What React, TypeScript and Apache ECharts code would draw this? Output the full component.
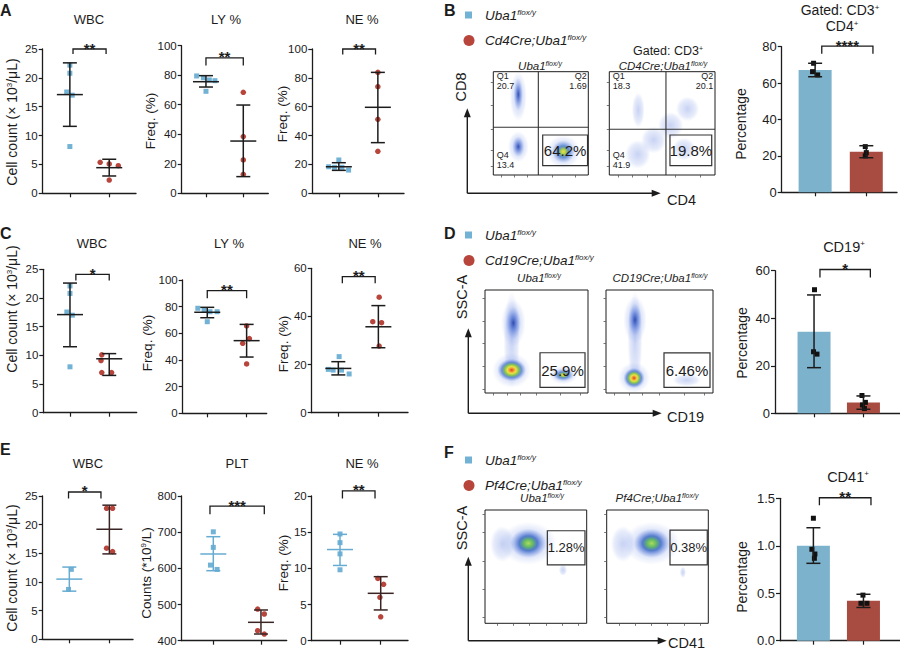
import React, { useEffect, useRef } from 'react';
import * as echarts from 'echarts';

const FONT = '"Liberation Sans", Arial, Helvetica, sans-serif';
const INK = '#1c1c1c';
const BLUE = '#72B2D5';
const RED = '#B8453B';
const BAR_BLUE = '#7DB2CD';
const BAR_RED = '#A84C41';
const ERR_BLUE = '#66ACD2';
const ERR_DARK = '#3a2424';

// ================= DATA =================
// stats rows: [mean, lower (mean-SD), upper (mean+SD)]; sig: [x1, x2, y, label]
// ---- Panel A
const A_WBC_CTRL = [22.2, 20.8, 17.55, 17.0, 8.1];
const A_WBC_CTRL_JIT = [0, 0, -0.08, 0.06, 0];
const A_WBC_KO = [5.37, 5.08, 4.78, 2.3];
const A_WBC_KO_JIT = [-0.23, 0, 0.23, 0];
const A_WBC_STATS = [[17.1, 11.6, 22.6], [4.44, 3.0, 5.9]];
const A_WBC_SIG: [number, number, number, string] = [1.08, 1.92, 25, '**'];

const A_LY_CTRL = [79.5, 78.3, 76.8, 76.3, 69.1];
const A_LY_CTRL_JIT = [-0.25, -0.07, 0.09, 0.24, 0];
const A_LY_KO = [68.4, 38.4, 22.6, 12.9];
const A_LY_KO_JIT = [0, 0, 0, 0];
const A_LY_STATS = [[75.6, 72.0, 79.7], [35.4, 11.3, 59.8]];
const A_LY_SIG: [number, number, number, string] = [1.0, 2.0, 91.7, '**'];

const A_NE_CTRL = [18.4, 18.0, 23.1, 18.0, 16.1];
const A_NE_CTRL_JIT = [-0.26, -0.11, 0, 0.08, 0.25];
const A_NE_KO = [83.8, 73.9, 51.3, 29.1];
const A_NE_KO_JIT = [0, 0, 0, 0];
const A_NE_STATS = [[18.4, 15.9, 21.2], [59.6, 35.1, 83.8]];
const A_NE_SIG: [number, number, number, string] = [1.1, 1.94, 100, '**'];

// ---- Panel C
const C_WBC_CTRL = [22.1, 20.8, 17.55, 17.0, 8.0];
const C_WBC_CTRL_JIT = [0, 0, -0.08, 0.06, 0];
const C_WBC_KO = [10.1, 9.1, 7.0, 7.0];
const C_WBC_KO_JIT = [-0.19, -0.21, -0.19, 0.06];
const C_WBC_STATS = [[17.1, 11.5, 22.6], [9.4, 6.5, 10.3]];
const C_WBC_SIG: [number, number, number, string] = [1.15, 2.0, 24.1, '*'];

const C_LY_CTRL = [78.8, 77.5, 76.2, 76.2, 68.7];
const C_LY_CTRL_JIT = [-0.24, -0.08, 0.07, 0.25, 0];
const C_LY_KO = [65.5, 56.0, 52.5, 37.0];
const C_LY_KO_JIT = [0, 0.07, -0.1, 0];
const C_LY_STATS = [[75.8, 71.7, 79.5], [54.5, 42.2, 66.7]];
const C_LY_SIG: [number, number, number, string] = [1.0, 2.0, 92, '**'];

const C_NE_CTRL = [18.0, 17.7, 23.3, 17.7, 16.1];
const C_NE_CTRL_JIT = [-0.25, -0.13, 0.02, 0.08, 0.27];
const C_NE_KO = [48.0, 37.8, 37.4, 27.7];
const C_NE_KO_JIT = [0.02, -0.14, 0.08, 0.02];
const C_NE_STATS = [[18.4, 15.7, 21.2], [35.7, 27.0, 44.5]];
const C_NE_SIG: [number, number, number, string] = [1.1, 1.92, 56.5, '**'];

// ---- Panel E
const E_WBC_CTRL = [12.2, 8.7];
const E_WBC_CTRL_JIT = [0.05, -0.02];
const E_WBC_KO = [22.85, 22.85, 15.9, 15.3];
const E_WBC_KO_JIT = [-0.07, 0.08, -0.07, 0.08];
const E_WBC_STATS = [[10.5, 8.4, 12.6], [19.2, 14.9, 23.4]];
const E_WBC_SIG: [number, number, number, string] = [0.98, 1.79, 25.7, '*'];

const E_PLT_CTRL = [701, 658, 609, 597];
const E_PLT_CTRL_JIT = [0, 0, -0.06, 0.08];
const E_PLT_KO = [487.6, 473.8, 427.7, 418.5];
const E_PLT_KO_JIT = [-0.07, 0.07, -0.07, 0.07];
const E_PLT_STATS = [[639.7, 593.5, 687.5], [450.8, 418.5, 484.9]];
const E_PLT_SIG: [number, number, number, string] = [0.93, 2.07, 772, '***'];

const E_NE_CTRL = [14.75, 13.55, 12.0, 9.8];
const E_NE_CTRL_JIT = [0, 0, 0, 0];
const E_NE_KO = [8.6, 7.8, 6.0, 3.3];
const E_NE_KO_JIT = [-0.07, 0.07, -0.02, 0];
const E_NE_STATS = [[12.6, 10.4, 14.7], [6.55, 4.25, 8.85]];
const E_NE_SIG: [number, number, number, string] = [1.06, 1.86, 20.7, '**'];

// ---- Bar charts (B, D, F)
const B_BAR_MEANS = [67.2, 22.3];
const B_BAR_ERR = [[63.5, 70.9], [19.0, 25.6]];
const B_BAR_CTRL = [70.9, 66.3, 64.5];
const B_BAR_CTRL_JIT = [-0.03, -0.05, 0.05];
const B_BAR_KO = [25.1, 21.8, 20.0];
const B_BAR_KO_JIT = [-0.02, 0, -0.02];
const B_BAR_SIG: [number, number, number, string] = [1.13, 2.13, 80.3, '****'];

const D_BAR_MEANS = [34.3, 4.5];
const D_BAR_ERR = [[19.2, 49.8], [1.7, 7.3]];
const D_BAR_CTRL = [52.0, 25.9, 24.9];
const D_BAR_CTRL_JIT = [0.01, -0.01, 0.06];
const D_BAR_KO = [7.5, 4.6, 3.5, 2.0];
const D_BAR_KO_JIT = [-0.03, 0.04, -0.02, 0.02];
const D_BAR_SIG: [number, number, number, string] = [1.12, 2.14, 60.5, '*'];

const F_BAR_MEANS = [1.0, 0.42];
const F_BAR_ERR = [[0.815, 1.19], [0.35, 0.489]];
const F_BAR_CTRL = [1.29, 0.963, 0.913, 0.868];
const F_BAR_CTRL_JIT = [0, -0.03, 0.03, 0.02];
const F_BAR_KO = [0.48, 0.394, 0.394];
const F_BAR_KO_JIT = [-0.01, -0.05, 0.07];
const F_BAR_SIG: [number, number, number, string] = [1.12, 2.15, 1.506, '**'];

// ---- Flow cytometry plots: clusters [cx, cy, rx, ry, densityLevel] on a 0-100 plot scale
const B1_CLUSTERS = [[26.3, 76, 9, 24, 0], [26.3, 27.4, 11, 15, 0], [73.7, 22.6, 18, 16, 0], [26.3, 78, 5, 16, 1], [26.3, 27.4, 6.5, 10, 1], [73.7, 22.6, 12, 11, 3]];
const B1_QUAD = [47.4, 46.2];
const B1_GATE = [52, 9, 99.2, 38.7];
const B1_PCT = '64.2%';
const B1_QLABELS: [string, number, number][] = [['Q1', 3.5, 95.5], ['20.7', 3.5, 86], ['Q2', 98.3, 95.5], ['1.69', 98.3, 86], ['Q4', 3.5, 19.4], ['13.4', 3.5, 9.7]];

const B2_CLUSTERS = [[27, 20, 12, 14, 0], [42, 33.9, 12, 13, 0], [58, 48, 12, 13, 0], [74, 64, 11, 12, 0], [27.4, 62.9, 6, 17, 0], [70.7, 25, 11, 11, 0]];
const B2_QUAD = [53.6, 44.3];
const B2_GATE = [57.4, 9, 96.9, 38.7];
const B2_PCT = '19.8%';
const B2_QLABELS: [string, number, number][] = [['Q1', 3.2, 95.5], ['18.3', 3.2, 86], ['Q2', 98.3, 95.5], ['20.1', 98.3, 86], ['Q4', 3.2, 19.4], ['41.9', 3.2, 9.7]];

const D1_CLUSTERS = [[25.9, 52, 8, 47, 0], [27.5, 68, 12, 23, 0], [25.9, 22, 19, 17, 0], [76, 17.5, 14, 9, 0], [27.5, 68, 7.5, 16, 1], [25.9, 22.3, 14, 11, 4], [76, 17.5, 10, 6, 3]];
const D1_GATE = [53.4, 5.5, 97.1, 39.1];
const D1_PCT = '25.9%';

const D2_CLUSTERS = [[27.1, 52, 7, 47, 0], [27.1, 71, 11, 23, 0], [26.2, 15, 15, 15, 0], [75.4, 12.6, 13, 6, 0], [27.1, 71, 6.5, 16, 1], [26.2, 14.5, 10, 10, 4]];
const D2_GATE = [54.2, 5.5, 97.2, 39];
const D2_PCT = '6.46%';

const F1_CLUSTERS = [[17, 70, 12, 16, 0], [42.6, 70.6, 28, 19, 0], [42.6, 70.6, 18, 13, 2], [76.7, 47, 4, 5, 0]];
const F1_GATE = [61.3, 51.5, 98.3, 81.7];
const F1_PCT = '1.28%';

const F2_CLUSTERS = [[16, 70, 12, 16, 0], [44.3, 70.6, 28, 19, 0], [44.3, 70.6, 18, 13, 2], [75, 45, 3, 5, 0]];
const F2_GATE = [62.3, 51.5, 99, 82.3];
const F2_PCT = '0.38%';

// ================= STYLE HELPERS =================
const LEVEL_STOPS: [number, string][][] = [
  [[0, 'rgba(70,105,215,0.3)'], [0.7, 'rgba(90,125,225,0.15)'], [1, 'rgba(110,140,230,0)']],
  [[0, 'rgba(25,55,165,0.85)'], [0.45, 'rgba(55,95,205,0.5)'], [1, 'rgba(100,135,225,0)']],
  [[0, 'rgba(175,220,90,1)'], [0.25, 'rgba(95,185,95,0.95)'], [0.5, 'rgba(40,90,190,0.75)'], [0.8, 'rgba(70,110,215,0.3)'], [1, 'rgba(100,135,225,0)']],
  [[0, '#f3dc45'], [0.22, '#a9d04a'], [0.5, 'rgba(45,105,195,0.7)'], [1, 'rgba(100,135,225,0)']],
  [[0, '#e2382a'], [0.14, '#f0902f'], [0.3, '#ece046'], [0.48, '#86c64f'], [0.7, 'rgba(45,95,200,0.6)'], [1, 'rgba(100,135,225,0)']],
];

const textStyle = (text: string, size: number, extra: any = {}) => ({
  text,
  fontSize: size,
  fontFamily: FONT,
  fill: INK,
  textAlign: extra.align || 'center',
  textVerticalAlign: 'middle',
  align: extra.align || 'center',
  verticalAlign: 'middle',
  fontWeight: extra.bold ? 'bold' : 'normal',
  fontStyle: extra.italic ? 'italic' : 'normal',
});

function errRender(cap: number, meanHalf: number, colors: string[]) {
  return (params: any, api: any) => {
    const x = api.value(0);
    const pm = api.coord([x, api.value(1)]);
    const pl = api.coord([x, api.value(2)]);
    const ph = api.coord([x, api.value(3)]);
    const st = { stroke: colors[params.dataIndex], lineWidth: 1.5, fill: 'none' };
    const kids: any[] = [
      { type: 'line', shape: { x1: pl[0], y1: pl[1], x2: ph[0], y2: ph[1] }, style: st },
      { type: 'line', shape: { x1: pl[0] - cap, y1: pl[1], x2: pl[0] + cap, y2: pl[1] }, style: st },
      { type: 'line', shape: { x1: ph[0] - cap, y1: ph[1], x2: ph[0] + cap, y2: ph[1] }, style: st },
    ];
    if (meanHalf > 0) kids.push({ type: 'line', shape: { x1: pm[0] - meanHalf, y1: pm[1], x2: pm[0] + meanHalf, y2: pm[1] }, style: st });
    return { type: 'group', children: kids };
  };
}

function bracketRender(label: string, leg: number, size: number) {
  return (params: any, api: any) => {
    const a = api.coord([api.value(0), api.value(2)]);
    const b = api.coord([api.value(1), api.value(2)]);
    return {
      type: 'group',
      children: [
        { type: 'polyline', shape: { points: [[a[0], a[1] + leg], [a[0], a[1]], [b[0], b[1]], [b[0], b[1] + leg]] }, style: { stroke: INK, lineWidth: 1.3, fill: 'none' } },
        { type: 'text', x: (a[0] + b[0]) / 2, y: a[1] - 1, style: textStyle(label, size, { bold: true }) },
      ],
    };
  };
}

function barRender(colors: string[], halfW: number) {
  return (params: any, api: any) => {
    const x = api.value(0);
    const top = api.coord([x, api.value(1)]);
    const base = api.coord([x, 0]);
    return { type: 'rect', shape: { x: top[0] - halfW, y: top[1], width: halfW * 2, height: base[1] - top[1] }, style: { fill: colors[params.dataIndex] } };
  };
}

function clusterRender(params: any, api: any) {
  const c = api.coord([api.value(0), api.value(1)]);
  const s = api.size([api.value(2), api.value(3)]);
  const lvl = api.value(4);
  const grad = new echarts.graphic.RadialGradient(0.5, 0.5, 0.5, LEVEL_STOPS[lvl].map(([o, col]) => ({ offset: o, color: col })));
  return { type: 'ellipse', shape: { cx: c[0], cy: c[1], rx: s[0], ry: s[1] }, style: { fill: grad } };
}

function quadRender(params: any, api: any) {
  const xq = api.value(0), yq = api.value(1);
  const v0 = api.coord([xq, 0]), v1 = api.coord([xq, 100]);
  const h0 = api.coord([0, yq]), h1 = api.coord([100, yq]);
  const st = { stroke: '#333', lineWidth: 1.1 };
  return {
    type: 'group',
    children: [
      { type: 'line', shape: { x1: v0[0], y1: v0[1], x2: v1[0], y2: v1[1] }, style: st },
      { type: 'line', shape: { x1: h0[0], y1: h0[1], x2: h1[0], y2: h1[1] }, style: st },
    ],
  };
}

function gateRender(label: string, size: number) {
  return (params: any, api: any) => {
    const p1 = api.coord([api.value(0), api.value(3)]);
    const p2 = api.coord([api.value(2), api.value(1)]);
    return {
      type: 'group',
      children: [
        { type: 'rect', shape: { x: p1[0], y: p1[1], width: p2[0] - p1[0], height: p2[1] - p1[1] }, style: { stroke: '#333', lineWidth: 1.2, fill: 'none' } },
        { type: 'text', x: (p1[0] + p2[0]) / 2, y: (p1[1] + p2[1]) / 2, style: textStyle(label, size) },
      ],
    };
  };
}

function qlabelRender(labels: [string, number, number][]) {
  return (params: any, api: any) => {
    const p = api.coord([api.value(0), api.value(1)]);
    const l = labels[params.dataIndex];
    return { type: 'text', x: p[0], y: p[1], style: textStyle(l[0], 9, { align: l[1] > 50 ? 'right' : 'left' }) };
  };
}

// ================= OPTION BUILDER =================
function buildOption() {
  const grid: any[] = [], xAxis: any[] = [], yAxis: any[] = [], series: any[] = [];
  const axLine = { show: true, onZero: false, lineStyle: { color: INK, width: 1.3 } };

  const addAxes = (box: number[], xr: number[], yr: number[], labelSize: number, fmt?: (v: number) => string) => {
    const i = grid.length;
    grid.push({ left: box[0], top: box[1], width: box[2], height: box[3] });
    xAxis.push({
      type: 'value', gridIndex: i, min: xr[0], max: xr[1],
      axisLine: axLine,
      axisTick: { show: true, customValues: [1, 2], length: 4, lineStyle: { color: INK, width: 1.2 } },
      axisLabel: { show: false }, splitLine: { show: false },
    });
    yAxis.push({
      type: 'value', gridIndex: i, min: yr[0], max: yr[1], interval: yr[2],
      axisLine: axLine,
      axisTick: { show: true, length: 4, lineStyle: { color: INK, width: 1.2 } },
      axisLabel: { fontSize: labelSize, fontFamily: FONT, color: INK, margin: 5, formatter: fmt },
      splitLine: { show: false },
    });
    return i;
  };

  const dot = (i: number, vals: number[], jit: number[], x0: number, symbol: string, color: string, size = 5) => {
    series.push({
      type: 'scatter', xAxisIndex: i, yAxisIndex: i, symbol, symbolSize: size, silent: true, z: 3,
      itemStyle: { color, opacity: 1 },
      data: vals.map((v, k) => [x0 + jit[k], v]),
    });
  };

  const custom = (i: number, data: any[], renderItem: any, z = 4) => {
    series.push({ type: 'custom', coordinateSystem: 'cartesian2d', xAxisIndex: i, yAxisIndex: i, data, renderItem, z, silent: true });
  };

  // ---- scatter (dot) plots
  const SP = [
    { box: [42.7, 49, 93.3, 144.3], xr: [0.31, 2.68], y: [0, 25, 5], c: A_WBC_CTRL, cj: A_WBC_CTRL_JIT, k: A_WBC_KO, kj: A_WBC_KO_JIT, s: A_WBC_STATS, sig: A_WBC_SIG, leg: 5, err: [INK, INK] },
    { box: [181.7, 45.7, 86.6, 147.6], xr: [0.35, 2.67], y: [0, 100, 20], c: A_LY_CTRL, cj: A_LY_CTRL_JIT, k: A_LY_KO, kj: A_LY_KO_JIT, s: A_LY_STATS, sig: A_LY_SIG, leg: 7.5, err: [INK, INK] },
    { box: [312.3, 49, 91.7, 144.3], xr: [0.32, 2.67], y: [0, 100, 20], c: A_NE_CTRL, cj: A_NE_CTRL_JIT, k: A_NE_KO, kj: A_NE_KO_JIT, s: A_NE_STATS, sig: A_NE_SIG, leg: 5.5, err: [INK, INK] },
    { box: [43.3, 269.3, 93.4, 143.4], xr: [0.32, 2.7], y: [0, 25, 5], c: C_WBC_CTRL, cj: C_WBC_CTRL_JIT, k: C_WBC_KO, kj: C_WBC_KO_JIT, s: C_WBC_STATS, sig: C_WBC_SIG, leg: 6, err: [INK, INK] },
    { box: [182.7, 280, 84, 133.3], xr: [0.376, 2.51], y: [0, 100, 20], c: C_LY_CTRL, cj: C_LY_CTRL_JIT, k: C_LY_KO, kj: C_LY_KO_JIT, s: C_LY_STATS, sig: C_LY_SIG, leg: 7.5, err: [INK, INK] },
    { box: [311.7, 268.3, 96.3, 144.4], xr: [0.335, 2.74], y: [0, 60, 20], c: C_NE_CTRL, cj: C_NE_CTRL_JIT, k: C_NE_KO, kj: C_NE_KO_JIT, s: C_NE_STATS, sig: C_NE_SIG, leg: 6.5, err: [INK, INK] },
    { box: [42.7, 496, 90.3, 143.3], xr: [0.335, 2.59], y: [0, 25, 5], c: E_WBC_CTRL, cj: E_WBC_CTRL_JIT, k: E_WBC_KO, kj: E_WBC_KO_JIT, s: E_WBC_STATS, sig: E_WBC_SIG, leg: 6.5, err: [ERR_BLUE, ERR_DARK] },
    { box: [181.7, 496, 105, 144.7], xr: [0.337, 2.54], y: [400, 800, 100], c: E_PLT_CTRL, cj: E_PLT_CTRL_JIT, k: E_PLT_KO, kj: E_PLT_KO_JIT, s: E_PLT_STATS, sig: E_PLT_SIG, leg: 8, err: [ERR_BLUE, ERR_DARK] },
    { box: [311.7, 496, 96.3, 144.7], xr: [0.305, 2.67], y: [0, 20, 5], c: E_NE_CTRL, cj: E_NE_CTRL_JIT, k: E_NE_KO, kj: E_NE_KO_JIT, s: E_NE_STATS, sig: E_NE_SIG, leg: 7.5, err: [ERR_BLUE, ERR_DARK] },
  ];
  SP.forEach((p) => {
    const i = addAxes(p.box, p.xr, p.y, 11.5);
    dot(i, p.c, p.cj, 1, 'rect', BLUE);
    dot(i, p.k, p.kj, 2, 'circle', RED, 5.5);
    custom(i, p.s.map((s, k) => [k + 1, s[0], s[1], s[2]]), errRender(7, 13, p.err));
    custom(i, [[p.sig[0], p.sig[1], p.sig[2]]], bracketRender(p.sig[3], p.leg, 15));
  });

  // ---- bar charts
  const BP = [
    { box: [781.7, 46.7, 115.3, 145.6], xr: [0.347, 2.6], y: [0, 80, 20], m: B_BAR_MEANS, e: B_BAR_ERR, c: B_BAR_CTRL, cj: B_BAR_CTRL_JIT, k: B_BAR_KO, kj: B_BAR_KO_JIT, sig: B_BAR_SIG, leg: 7.5 },
    { box: [775, 270.7, 125, 142.6], xr: [0.21, 2.74], y: [0, 60, 20], m: D_BAR_MEANS, e: D_BAR_ERR, c: D_BAR_CTRL, cj: D_BAR_CTRL_JIT, k: D_BAR_KO, kj: D_BAR_KO_JIT, sig: D_BAR_SIG, leg: 8 },
    { box: [780, 498.3, 120, 142.4], xr: [0.333, 2.73], y: [0, 1.5, 0.5], m: F_BAR_MEANS, e: F_BAR_ERR, c: F_BAR_CTRL, cj: F_BAR_CTRL_JIT, k: F_BAR_KO, kj: F_BAR_KO_JIT, sig: F_BAR_SIG, leg: 7.5 },
  ];
  BP.forEach((p, idx) => {
    const i = addAxes(p.box, p.xr, p.y, 13, idx === 2 ? (v: number) => v.toFixed(1) : undefined);
    custom(i, p.m.map((v, k) => [k + 1, v]), barRender([BAR_BLUE, BAR_RED], 16.5), 2);
    dot(i, p.c, p.cj, 1, 'rect', '#111', 5);
    dot(i, p.k, p.kj, 2, 'rect', '#111', 5);
    custom(i, p.m.map((v, k) => [k + 1, v, p.e[k][0], p.e[k][1]]), errRender(7, 0, [INK, INK]));
    custom(i, [[p.sig[0], p.sig[1], p.sig[2]]], bracketRender(p.sig[3], p.leg, 15));
  });

  // ---- flow cytometry plots
  const FP = [
    { box: [493.3, 71.7, 95, 103.3], cl: B1_CLUSTERS, gate: B1_GATE, pct: B1_PCT, quad: B1_QUAD, ql: B1_QLABELS, fs: 15, tx: [8, 22, 36, 62, 86], ty: [8, 24, 44, 68, 90] },
    { box: [609.3, 71.7, 105.7, 103.3], cl: B2_CLUSTERS, gate: B2_GATE, pct: B2_PCT, quad: B2_QUAD, ql: B2_QLABELS, fs: 15, tx: [8, 22, 36, 62, 86], ty: [8, 24, 44, 68, 90] },
    { box: [485, 290, 103, 103], cl: D1_CLUSTERS, gate: D1_GATE, pct: D1_PCT, quad: null, ql: null, fs: 15, tx: [8, 22, 34, 50, 73, 92], ty: [4, 26, 48, 70, 92] },
    { box: [606, 290, 107, 103], cl: D2_CLUSTERS, gate: D2_GATE, pct: D2_PCT, quad: null, ql: null, fs: 15, tx: [8, 22, 34, 50, 73, 92], ty: [4, 26, 48, 70, 92] },
    { box: [485, 510, 101.7, 113.3], cl: F1_CLUSTERS, gate: F1_GATE, pct: F1_PCT, quad: null, ql: null, fs: 13, tx: [12, 28, 44, 60, 76, 92], ty: [5, 30, 55, 80, 96] },
    { box: [606.7, 510, 101.6, 113.3], cl: F2_CLUSTERS, gate: F2_GATE, pct: F2_PCT, quad: null, ql: null, fs: 13, tx: [12, 28, 44, 60, 76, 92], ty: [5, 30, 55, 80, 96] },
  ];
  FP.forEach((p) => {
    const i = grid.length;
    grid.push({ left: p.box[0], top: p.box[1], width: p.box[2], height: p.box[3], show: true, borderColor: INK, borderWidth: 1, backgroundColor: 'transparent' });
    const tick = (vals: number[]) => ({ show: true, customValues: vals, length: 2.5, lineStyle: { color: '#555', width: 0.8 } });
    xAxis.push({ type: 'value', gridIndex: i, min: 0, max: 100, axisLine: { show: false }, axisTick: tick(p.tx), axisLabel: { show: false }, splitLine: { show: false } });
    yAxis.push({ type: 'value', gridIndex: i, min: 0, max: 100, axisLine: { show: false }, axisTick: tick(p.ty), axisLabel: { show: false }, splitLine: { show: false } });
    custom(i, p.cl, clusterRender, 2);
    if (p.quad) custom(i, [p.quad], quadRender, 3);
    custom(i, [p.gate], gateRender(p.pct, p.fs), 4);
    if (p.ql) custom(i, p.ql.map((l) => [l[1], l[2]]), qlabelRender(p.ql), 4);
  });

  // ---- graphic texts / legends / arrows
  const G: any[] = [];
  const txt = (text: string, x: number, y: number, o: any = {}) =>
    G.push({ type: 'text', x, y, rotation: o.rot || 0, silent: true, z: 10, style: { ...textStyle(text, o.size || 13, o), ...(o.rich ? { rich: o.rich } : {}) } });
  const rich = (size: number, sup: number, italic: boolean) => ({
    m: { fontSize: size, fontFamily: FONT, fontStyle: italic ? 'italic' : 'normal', fill: INK },
    s: { fontSize: sup, fontFamily: FONT, fontStyle: italic ? 'italic' : 'normal', fill: INK, verticalAlign: 'top' },
  });

  // panel letters
  [['A', 0, 10], ['B', 444, 10], ['C', 0, 233], ['D', 444, 233], ['E', 0, 449], ['F', 444, 452]].forEach(([t, x, y]) =>
    txt(t as string, x as number, y as number, { size: 16, bold: true, align: 'left' }));

  // dot-plot titles
  [['WBC', 89, 19], ['LY %', 226, 19], ['NE %', 362, 19], ['WBC', 92, 243], ['LY %', 229, 243], ['NE %', 365, 243], ['WBC', 88, 463], ['PLT', 237, 463], ['NE %', 362, 463]].forEach(([t, x, y]) =>
    txt(t as string, x as number, y as number, { size: 13 }));

  // y-axis names
  const cellName = '{m|Cell count (× 10}{s|3}{m|/μL)}';
  txt(cellName, 12, 122, { rot: Math.PI / 2, rich: rich(14, 8, false) });
  txt(cellName, 12, 309, { rot: Math.PI / 2, rich: rich(14, 8, false) });
  txt(cellName, 12, 568, { rot: Math.PI / 2, rich: rich(14, 8, false) });
  [[150, 121], [282, 114], [147, 343], [283, 344], [283, 563]].forEach(([x, y]) => txt('Freq. (%)', x, y, { rot: Math.PI / 2, size: 13.5 }));
  txt('{m|Counts (*10}{s|9}{m|/L)}', 146, 573, { rot: Math.PI / 2, rich: rich(13.5, 8, false) });
  [[741, 124], [741.7, 343], [741.7, 577]].forEach(([x, y]) => txt('Percentage', x, y, { rot: Math.PI / 2, size: 14 }));

  // bar titles
  txt('{m|Gated: CD3}{s|+}', 840, 10, { rich: rich(14, 8, false) });
  txt('{m|CD4}{s|+}', 842, 26, { rich: rich(14, 8, false) });
  txt('{m|CD19}{s|+}', 844, 247, { rich: rich(14.5, 8, false) });
  txt('{m|CD41}{s|+}', 848, 477, { rich: rich(14.5, 8, false) });
  txt('{m|Gated: CD3}{s|+}', 668, 51, { rich: rich(12.5, 7, false) });

  // flow titles (italic genotypes)
  const geno = (pre: string) => `{m|${pre}Uba1}{s|flox/y}`;
  [['', 540, 66], ['CD4Cre;', 663, 66], ['', 539, 278], ['CD19Cre;', 660, 278], ['', 542, 498], ['Pf4Cre;', 657, 498]].forEach(([pre, x, y]) =>
    txt(geno(pre as string), x as number, y as number, { rich: rich(11.5, 7, true) }));

  // legends
  const legend = (y: number, koPre: string) => {
    G.push({ type: 'rect', shape: { x: 465, y: y - 3.5, width: 7, height: 7 }, style: { fill: BLUE }, silent: true });
    G.push({ type: 'circle', shape: { cx: 469, cy: y + 25.5, r: 5.5 }, style: { fill: RED }, silent: true });
    txt(geno(''), 485, y, { align: 'left', rich: rich(13.5, 8, true) });
    txt(geno(koPre), 485, y + 25.5, { align: 'left', rich: rich(13.5, 8, true) });
  };
  legend(15, 'Cd4Cre;');
  legend(235, 'Cd19Cre;');
  legend(460, 'Pf4Cre;');

  // axis arrows of flow panels
  const arrows = (x: number, y: number, vtip: number, htip: number) => {
    const st = { stroke: INK, lineWidth: 1.4 };
    G.push({ type: 'line', shape: { x1: x, y1: y, x2: x, y2: vtip + 6 }, style: st, silent: true });
    G.push({ type: 'line', shape: { x1: x, y1: y, x2: htip - 6, y2: y }, style: st, silent: true });
    G.push({ type: 'polygon', shape: { points: [[x, vtip], [x - 3.5, vtip + 9], [x + 3.5, vtip + 9]] }, style: { fill: INK }, silent: true });
    G.push({ type: 'polygon', shape: { points: [[htip, y], [htip - 9, y - 3.5], [htip - 9, y + 3.5]] }, style: { fill: INK }, silent: true });
  };
  arrows(467.3, 193.3, 108.3, 660.7);
  arrows(468.3, 413.3, 328.3, 661.7);
  arrows(468.3, 640.7, 556.7, 666.7);
  txt('CD8', 461, 87, { rot: Math.PI / 2, size: 14.5 });
  txt('CD4', 667, 199.5, { size: 14.5, align: 'left' });
  txt('SSC-A', 462, 297, { rot: Math.PI / 2, size: 14.5 });
  txt('CD19', 667, 417, { size: 14.5, align: 'left' });
  txt('SSC-A', 462, 528, { rot: Math.PI / 2, size: 14.5 });
  txt('CD41', 668, 643, { size: 14.5, align: 'left' });

  return { animation: false, backgroundColor: '#ffffff', grid, xAxis, yAxis, series, graphic: G };
}

export default function App() {
  const ref = useRef<HTMLDivElement>(null);
  useEffect(() => {
    if (!ref.current) return;
    const chart = echarts.init(ref.current, undefined, { renderer: 'svg' });
    chart.setOption(buildOption() as any);
    return () => chart.dispose();
  }, []);
  return <div ref={ref} style={{ position: 'absolute', left: 0, top: 0, width: 900, height: 650, background: '#fff' }} />;
}
